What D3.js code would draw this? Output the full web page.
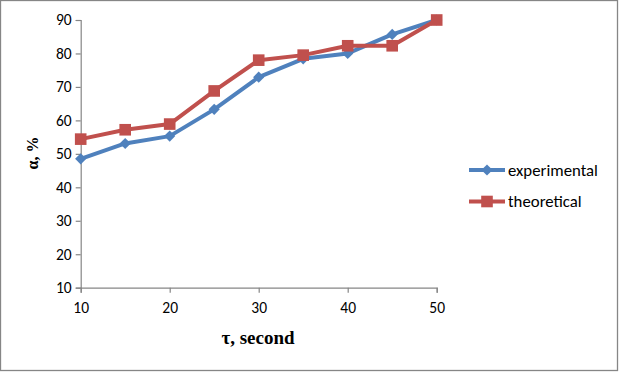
<!DOCTYPE html>
<html><head><meta charset="utf-8">
<script src="https://cdn.jsdelivr.net/npm/d3@7"></script>
<style>body{margin:0;background:#fff}svg{display:block}</style>
</head><body>
<svg id="c" width="619" height="372"></svg>
<script>
const xValues = [10, 15, 20, 25, 30, 35, 40, 45, 50];
const experimental = [48.5, 53.1, 55.3, 63.3, 72.9, 78.4, 80.0, 85.7, 90.0];
const theoretical = [54.4, 57.2, 58.9, 68.8, 78.0, 79.5, 82.3, 82.3, 90.0];
const xTicks = [10, 20, 30, 40, 50];
const yTicks = [10, 20, 30, 40, 50, 60, 70, 80, 90];
const seriesNames = ["experimental", "theoretical"];
const colors = ["#4F81BD", "#C0504D"];

const svg = d3.select("#c");
svg.append("rect").attr("x",0.5).attr("y",0.5).attr("width",617).attr("height",370)
  .attr("fill","#fff").attr("stroke","#868686").attr("stroke-width",1.3);

const x = d3.scaleLinear().domain([10,50]).range([80.7,436.7]);
const y = d3.scaleLinear().domain([10,90]).range([287.7,20]);
const font = "Carlito, Calibri, 'Open Sans', sans-serif";

const yAxis = svg.append("g").attr("transform","translate(80.7,0)")
  .call(d3.axisLeft(y).tickValues(yTicks).tickSize(5).tickPadding(4));
const xAxis = svg.append("g").attr("transform","translate(0,287.7)")
  .call(d3.axisBottom(x).tickValues(xTicks).tickSize(5).tickPadding(9));
[xAxis,yAxis].forEach(g=>{
  g.selectAll("path,line").attr("stroke","#868686").attr("stroke-width",1.2);
  g.selectAll("text").attr("fill","#000").style("font-family",font).style("font-size","15.5px");
});

const data = [experimental, theoretical];
const line = d3.line().x((d,i)=>x(xValues[i])).y(d=>y(d));
data.forEach((s,k)=>{
  svg.append("path").datum(s).attr("d",line).attr("fill","none")
    .attr("stroke",colors[k]).attr("stroke-width",4).attr("stroke-linejoin","round");
});
// markers
const diamond = d3.symbol().type(d3.symbolDiamond2).size(80);
const square = d3.symbol().type(d3.symbolSquare).size(135);
svg.append("g").selectAll("path").data(experimental).join("path")
  .attr("transform",(d,i)=>`translate(${x(xValues[i])},${y(d)})`)
  .attr("d",diamond).attr("fill",colors[0]);
svg.append("g").selectAll("path").data(theoretical).join("path")
  .attr("transform",(d,i)=>`translate(${x(xValues[i])},${y(d)})`)
  .attr("d",square).attr("fill",colors[1]);

// axis titles
svg.append("text").attr("x",258).attr("y",344).attr("text-anchor","middle")
  .style("font-family","'Liberation Serif', 'Times New Roman', serif").style("font-weight","bold")
  .style("font-size","19px").text("τ, second");
svg.append("text").attr("transform","translate(38,153) rotate(-90)").attr("text-anchor","middle")
  .style("font-family","'Liberation Serif', 'Times New Roman', serif").style("font-weight","bold")
  .style("font-size","16px").text("α, %");

// legend
const leg = svg.append("g");
const ly = [170, 201.5];
seriesNames.forEach((n,k)=>{
  leg.append("line").attr("x1",469).attr("x2",505).attr("y1",ly[k]).attr("y2",ly[k])
    .attr("stroke",colors[k]).attr("stroke-width",4);
  leg.append("path").attr("transform",`translate(487,${ly[k]})`)
    .attr("d",k===0?diamond:square).attr("fill",colors[k]);
  leg.append("text").attr("x",508).attr("y",ly[k]+5.5).style("font-family",font)
    .style("font-size","16.8px").text(n);
});
</script>
</body></html>
